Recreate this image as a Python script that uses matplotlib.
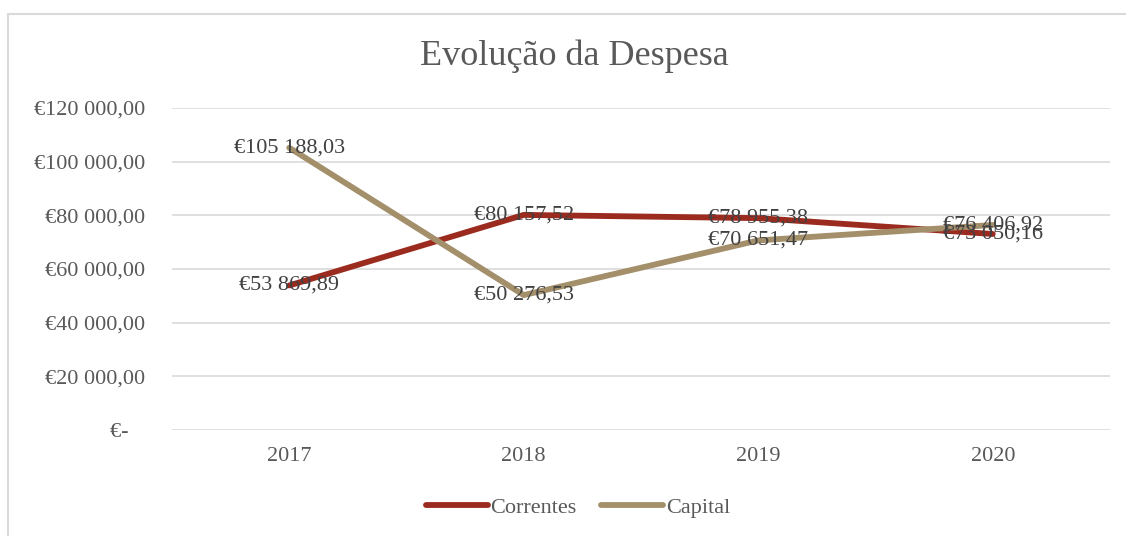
import matplotlib.pyplot as plt
from matplotlib.patches import Rectangle

# data
anos = ["2017", "2018", "2019", "2020"]
correntes = [53869.89, 80157.52, 78955.38, 73050.16]
capital = [105188.03, 50276.53, 70651.47, 76406.92]
y_ticks = [0, 20000, 40000, 60000, 80000, 100000, 120000]

cor_correntes = "#9B2B1F"
cor_capital = "#A48F6B"
cinza = "#595959"

plt.rcParams['font.family'] = ['Liberation Serif', 'DejaVu Serif']


def euro(v):
    if v == 0:
        return "€-   "
    s = f"{v:,.2f}"
    inteiro, dec = s.split(".")
    return "€" + inteiro.replace(",", " ") + "," + dec


fig = plt.figure(figsize=(11.26, 5.36), dpi=100)
# moldura do gráfico
fig.patches.append(Rectangle((8 / 1126, -0.1), 1.2, 1 - 14 / 536 + 0.1,
                             transform=fig.transFigure, fill=False,
                             edgecolor="#D9D9D9", linewidth=1.5))

ax = fig.add_axes([172 / 1126, 1 - 430 / 536, (1110 - 172) / 1126, 322 / 536])
x = list(range(len(anos)))
ax.plot(x, correntes, color=cor_correntes, linewidth=4.2, label="Correntes",
        solid_capstyle="round")
ax.plot(x, capital, color=cor_capital, linewidth=4.2, label="Capital",
        solid_capstyle="round")

for xi, v in zip(x, correntes):
    ax.text(xi, v, euro(v), ha="center", va="center", fontsize=16, color="#404040")
for xi, v in zip(x, capital):
    ax.text(xi, v, euro(v), ha="center", va="center", fontsize=16, color="#404040")

ax.set_xlim(-0.5, 3.5)
ax.set_ylim(0, 120000)
ax.set_yticks(y_ticks)
ax.set_yticklabels([euro(v) for v in y_ticks])
ax.set_xticks(x)
ax.set_xticklabels(anos)
ax.tick_params(axis="both", length=0, labelsize=16, labelcolor=cinza)
ax.tick_params(axis="y", pad=19)
ax.tick_params(axis="x", pad=12)
ax.grid(axis="y", color="#D9D9D9", linewidth=1.2)
ax.set_axisbelow(True)
for s in ax.spines.values():
    s.set_visible(False)

fig.text(574 / 1126, 1 - 56 / 536, "Evolução da Despesa", ha="center", va="center",
         fontsize=26, color=cinza)

fig.legend(loc="center", bbox_to_anchor=(578 / 1126, 1 - 508 / 536), ncol=2,
           frameon=False, fontsize=16, labelcolor=cinza, handlelength=2.8,
           handletextpad=0.1, columnspacing=1.1)

fig.savefig("out.png", dpi=100)
